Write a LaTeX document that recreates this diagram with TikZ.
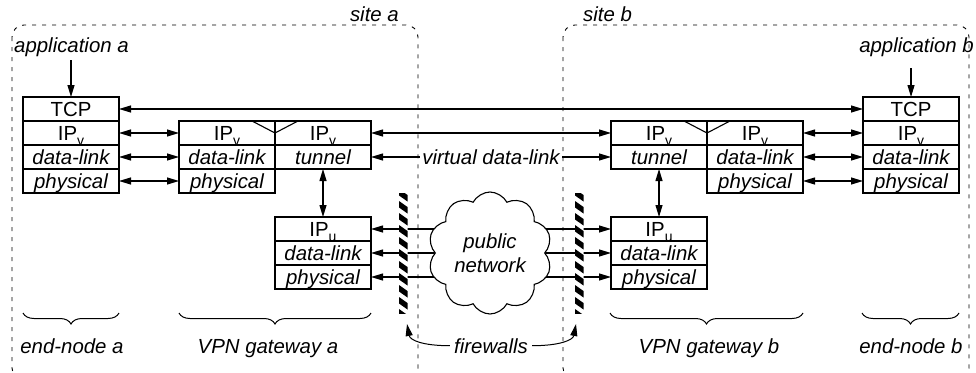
\documentclass[tikz,border=0pt]{standalone}
\usepackage{fontspec}
\setmainfont{Liberation Sans}
\usetikzlibrary{arrows.meta,shapes.symbols,decorations.pathreplacing,calc}
\newcommand\mysz{\fontsize{20.4}{24}\selectfont}
\newcommand\ipsub[1]{IP\raisebox{-4.5pt}{\fontsize{14}{14}\selectfont #1}}
\begin{document}
\begin{tikzpicture}[x=1pt,y=-1pt,
  cell/.style={draw,line width=1.1pt,minimum width=96pt,minimum height=24pt,inner sep=0pt,outer sep=0pt,text height=15pt,text depth=0pt,font=\mysz},
  icell/.style={cell,font=\mysz\itshape},
  lbl/.style={font=\mysz\itshape,inner sep=0pt},
  tip/.tip={Triangle[length=12pt,width=7pt]},
  conn/.style={line width=1.1pt,-tip},
  biconn/.style={line width=1.1pt,tip-tip},
  site/.style={line width=0.9pt,dash pattern=on 4pt off 6pt,rounded corners=12pt},
  brc/.style={decorate,decoration={brace,amplitude=11pt},line width=1pt},
]
\useasboundingbox (0,0) rectangle (976,372);
% sites
\begin{scope}
\clip (0,0) rectangle (976,372);
\draw[site] (12,25) rectangle (418,380);
\draw[site] (563,25) rectangle (969,380);
\end{scope}
\node[lbl,anchor=base east] (sa) at (399,21) {site a};
\node[lbl,anchor=base west] (sb) at (583,21) {site b};
% applications
\node[lbl,anchor=base west] (appa) at (14,52) {application a};
\node[lbl,anchor=base east] (appb) at (974,52) {application b};
% end node a
\node[cell]  (eaT) at (71,109) {TCP};
\node[cell]  (eaI) at (71,133) {\ipsub{v}};
\node[icell] (eaD) at (71,157) {data-link};
\node[icell] (eaP) at (71,181) {physical};
% gateway a
\node[cell]  (gaIl) at (227,133) {\ipsub{v}};
\node[cell]  (gaIr) at (323,133) {\ipsub{v}};
\node[icell] (gaD)  at (227,157) {data-link};
\node[icell] (gaT)  at (323,157) {tunnel};
\node[icell] (gaP)  at (227,181) {physical};
\node[cell]  (uaI)  at (323,229) {\ipsub{u}};
\node[icell] (uaD)  at (323,253) {data-link};
\node[icell] (uaP)  at (323,277) {physical};
% gateway b
\node[cell]  (gbIl) at (659,133) {\ipsub{v}};
\node[cell]  (gbIr) at (755,133) {\ipsub{v}};
\node[icell] (gbT)  at (659,157) {tunnel};
\node[icell] (gbD)  at (755,157) {data-link};
\node[icell] (gbP)  at (755,181) {physical};
\node[cell]  (ubI)  at (659,229) {\ipsub{u}};
\node[icell] (ubD)  at (659,253) {data-link};
\node[icell] (ubP)  at (659,277) {physical};
% end node b
\node[cell]  (ebT) at (911,109) {TCP};
\node[cell]  (ebI) at (911,133) {\ipsub{v}};
\node[icell] (ebD) at (911,157) {data-link};
\node[icell] (ebP) at (911,181) {physical};
% triangles
\draw[line width=1.1pt] ($(gaIl.north east)+(-23,0)$) -- ($(gaIl.north east)+(0,12)$) -- ($(gaIl.north east)+(23,0)$);
\draw[line width=1.1pt] ($(gbIl.north east)+(-23,0)$) -- ($(gbIl.north east)+(0,12)$) -- ($(gbIl.north east)+(23,0)$);
% application arrows
\coordinate (aa) at (71,60);
\coordinate (ab) at (911,68);
\draw[conn] (aa) -- (eaT.north);
\draw[conn] (ab) -- (ebT.north);
% horizontal connectors
\draw[biconn] (eaT.east) -- (ebT.west);
\draw[biconn] (eaI.east) -- (gaIl.west);
\draw[biconn] (eaD.east) -- (gaD.west);
\draw[biconn] (eaP.east) -- (gaP.west);
\draw[biconn] (gaIr.east) -- (gbIl.west);
\draw[biconn] (gaT.east) -- node[lbl,fill=white,inner sep=2pt] (vdl) {virtual data-link} (gbT.west);
\draw[biconn] (gbIr.east) -- (ebI.west);
\draw[biconn] (gbD.east) -- (ebD.west);
\draw[biconn] (gbP.east) -- (ebP.west);
\draw[biconn] (gaT.south) -- (uaI.north);
\draw[biconn] (gbT.south) -- (ubI.north);
% cloud lines
\coordinate (cc) at (490,253);
\foreach \r in {uaI,uaD,uaP} \draw[conn] (cc |- \r.east) -- (\r.east);
\foreach \r in {ubI,ubD,ubP} \draw[conn] (cc |- \r.west) -- (\r.west);
\node[cloud,draw,fill=white,cloud puffs=10,cloud puff arc=125,aspect=1,minimum width=124pt,minimum height=122pt,inner sep=0pt,line width=1.1pt,align=center,font=\mysz\itshape] (cl) at (cc) {public\\network};
% firewalls
\foreach \fx in {399,575}{
\begin{scope}
\clip (\fx,193) rectangle ({\fx+8.5},313);
\fill[white] (\fx,193) rectangle ({\fx+8.5},313);
\foreach \k in {0,...,10} \fill (\fx,{189+12*\k}) -- ++(0,6.5) -- ++(8.5,6) -- ++(0,-6.5) -- cycle;
\end{scope}
}
% braces and labels
\draw[brc] (119,313) -- (23,313);
\draw[brc] (371,313) -- (179,313);
\draw[brc] (803,313) -- (610,313);
\draw[brc] (959,313) -- (862,313);
\node[lbl,anchor=base] (ena) at (72,353) {end-node a};
\node[lbl,anchor=base] (vpa) at (268,353) {VPN gateway a};
\node[lbl,anchor=base] (vpb) at (709,353) {VPN gateway b};
\node[lbl,anchor=base] (enb) at (911,353) {end-node b};
\node[lbl,anchor=base] (fw) at (491,353) {firewalls};
\coordinate (fwa) at (407,324);
\coordinate (fwb) at (576,324);
\draw[conn,line width=1pt] ($(fw.west)+(-4,0)$) .. controls +(-28,0) and +(3,16) .. (fwa);
\draw[conn,line width=1pt] ($(fw.east)+(4,0)$) .. controls +(28,0) and +(-3,16) .. (fwb);
\end{tikzpicture}
\end{document}
